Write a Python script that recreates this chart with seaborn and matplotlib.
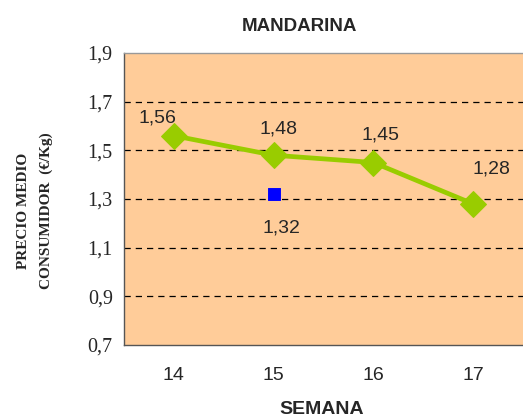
import matplotlib
matplotlib.use("Agg")
import matplotlib.pyplot as plt
import seaborn as sns
import pandas as pd

# datos
semanas = [14, 15, 16, 17]
precios = [1.56, 1.48, 1.45, 1.28]
semana_ref = [15]
precio_ref = [1.32]
y_ticks = [0.7, 0.9, 1.1, 1.3, 1.5, 1.7, 1.9]

sns.set_style("white")
plt.rcParams["font.family"] = ["Liberation Sans", "DejaVu Sans"]

fig = plt.figure(figsize=(5.23, 4.19), dpi=100)
ax = fig.add_axes([0.237, 0.1766, 0.763, 0.6969])
ax.set_facecolor("#FFCC99")

df = pd.DataFrame({"semana": semanas, "precio": precios})
sns.lineplot(data=df, x="semana", y="precio", ax=ax, color="#99CC00",
             linewidth=3.4, marker="D", markersize=13.5, markeredgecolor="#99CC00")
sns.scatterplot(x=semana_ref, y=precio_ref, ax=ax, color="#0000FF",
                marker="s", s=70, edgecolor="#0000FF", zorder=5)

fmt = lambda v: f"{v:.2f}".replace(".", ",")
offsets = [(-12, 6.5), (3.6, 13), (5, 14), (13, 19)]
for x, y, (dx, dy) in zip(semanas, precios, offsets):
    ax.annotate(fmt(y), (x, y), xytext=(dx, dy), textcoords="offset points",
                ha="center", va="bottom", fontsize=14)
for x, y in zip(semana_ref, precio_ref):
    ax.annotate(fmt(y), (x, y), xytext=(6, -18), textcoords="offset points",
                ha="center", va="top", fontsize=14)

ax.set_ylim(0.7, 1.9)
ax.set_xlim(13.5, 17.41)
ax.set_yticks(y_ticks)
ax.set_yticklabels([f"{v:.1f}".replace(".", ",") for v in y_ticks],
                   fontfamily="Liberation Serif", fontsize=14.5)
ax.set_xticks(semanas)
ax.set_xticklabels([str(s) for s in semanas], fontsize=14)
ax.set_xticks([13.5, 14.5, 15.5, 16.5, 17.5], minor=True)
ax.tick_params(axis="x", which="major", length=0, pad=16)
ax.tick_params(axis="x", which="minor", length=4, direction="out", color="#333333")
ax.tick_params(axis="y", length=4, direction="out", color="#333333", pad=4)

for v in y_ticks[1:-1]:
    ax.axhline(v, color="black", linestyle=(0, (5, 4)), linewidth=0.9, zorder=1)

for side in ["top", "right", "bottom", "left"]:
    ax.spines[side].set_color("#555555")
    ax.spines[side].set_linewidth(1.0)
ax.spines["top"].set_color("#999999")
ax.spines["right"].set_visible(False)

ax.set_xlabel("")
ax.set_ylabel("")
fig.text(0.572, 0.937, "MANDARINA", ha="center", va="center",
         fontsize=13.5, fontweight="bold")
fig.text(0.615, 0.022, "SEMANA", ha="center", va="center",
         fontsize=14, fontweight="bold")
fig.text(0.067, 0.497, "PRECIO MEDIO\nCONSUMIDOR  (€/Kg)", rotation=90,
         ha="center", va="center", fontsize=11, fontweight="bold",
         fontfamily="Liberation Serif", linespacing=1.9)

fig.savefig("out.png", dpi=100)
